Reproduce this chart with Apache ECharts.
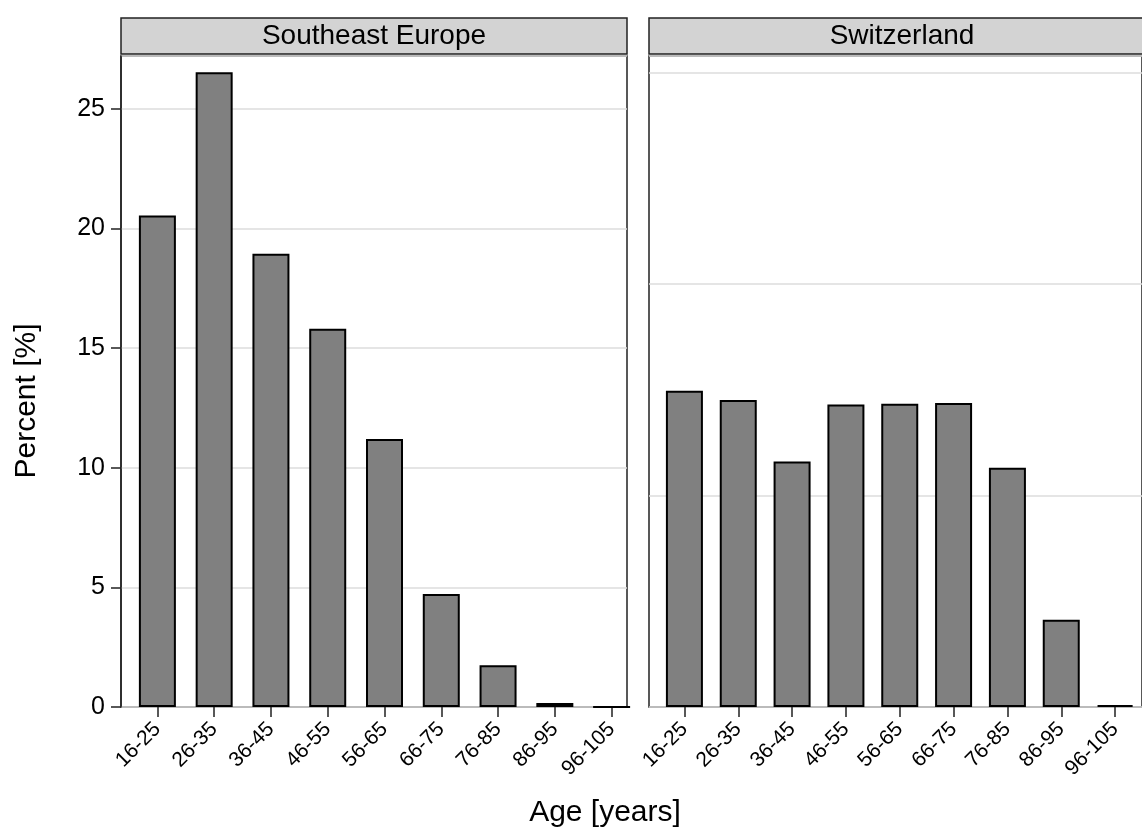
<!DOCTYPE html>
<html>
<head>
<meta charset="utf-8">
<script src="https://cdn.jsdelivr.net/npm/echarts@6/dist/echarts.min.js"></script>
<style>
html,body{margin:0;padding:0;background:#fff;}
#chart{width:1142px;height:829px;}
</style>
</head>
<body>
<div id="chart"></div>
<script>
const categories = ['16-25','26-35','36-45','46-55','56-65','66-75','76-85','86-95','96-105'];
const panelTitles = ['Southeast Europe','Switzerland'];
const seValues = [20.54, 26.52, 18.94, 15.80, 11.20, 4.72, 1.74, 0.17, 0];
const chValues = [13.21, 12.83, 10.26, 12.64, 12.67, 12.70, 10.00, 3.65, 0.08];
const yTickValues = [0, 5, 10, 15, 20, 25];
const yMax = 27.2;
const rightInterval = 8.84;
const xTitle = 'Age [years]';
const yTitle = 'Percent [%]';

const FONT = 'Liberation Sans, Arial, Helvetica, sans-serif';
const chart = echarts.init(document.getElementById('chart'), null, {renderer: 'canvas'});

const frameTop = 56, frameH = 651;
const grids = [
  {left: 121, top: frameTop, width: 506, height: frameH, show: true, borderColor: '#222', borderWidth: 1.5, backgroundColor: 'transparent'},
  {left: 129, top: frameTop, width: 511, height: frameH},
  {left: 649, top: frameTop, width: 506, height: frameH, show: true, borderColor: '#222', borderWidth: 1.5, backgroundColor: 'transparent'},
  {left: 657.5, top: frameTop, width: 495, height: frameH}
];

function frameX(i){
  return {type:'category', gridIndex:i, data:categories, show:false};
}
function dataX(i){
  return {
    type:'category', gridIndex:i, data:categories,
    axisLine:{show:false},
    axisTick:{show:true, alignWithLabel:true, length:10, lineStyle:{color:'#222', width:1.5}},
    axisLabel:{interval:0, rotate:45, fontSize:21, fontFamily:FONT, color:'#000', margin:19},
    splitLine:{show:false}
  };
}
const yAxes = [
  {type:'value', gridIndex:0, min:0, max:yMax,
   axisLine:{show:true, lineStyle:{color:'#222', width:1.5}},
   axisTick:{show:true, length:10, customValues:yTickValues, lineStyle:{color:'#222', width:1.5}},
   axisLabel:{fontSize:25, fontFamily:FONT, color:'#000', margin:16, customValues:yTickValues},
   splitLine:{show:false}},
  {type:'value', gridIndex:1, min:0, max:yMax, show:false, splitLine:{show:false}},
  {type:'value', gridIndex:2, min:0, max:yMax, interval:rightInterval,
   axisLine:{show:false}, axisTick:{show:false}, axisLabel:{show:false},
   splitLine:{show:true, lineStyle:{color:'#dddddd', width:1.5}}},
  {type:'value', gridIndex:3, min:0, max:yMax, show:false, splitLine:{show:false}},
  {type:'value', gridIndex:0, min:0, max:yMax, interval:5, show:true,
   axisLine:{show:false}, axisTick:{show:false}, axisLabel:{show:false},
   splitLine:{show:true, lineStyle:{color:'#dddddd', width:1.5}}}
];

const barStyle = {color:'#808080', borderColor:'#000', borderWidth:2};

function strip(x, text){
  return [
    {type:'rect', shape:{x:x, y:18, width:506, height:36},
     style:{fill:'#d3d3d3', stroke:'#222', lineWidth:1.5}, z:10},
    {type:'text', x:x+253, y:36,
     style:{text:text, font:'28px ' + FONT, fill:'#000', textAlign:'center', textVerticalAlign:'middle'}, z:11}
  ];
}

chart.setOption({
  animation:false,
  backgroundColor:'#fff',
  grid: grids,
  xAxis: [frameX(0), dataX(1), frameX(2), dataX(3)],
  yAxis: yAxes,
  series: [
    {type:'bar', xAxisIndex:1, yAxisIndex:1, data:seValues, barWidth:37, itemStyle:barStyle},
    {type:'bar', xAxisIndex:3, yAxisIndex:3, data:chValues, barWidth:37, itemStyle:barStyle}
  ],
  graphic: [
    ...strip(121, panelTitles[0]),
    ...strip(649, panelTitles[1]),
    {type:'text', x:605, y:813,
     style:{text:xTitle, font:'30px ' + FONT, fill:'#000', textAlign:'center', textVerticalAlign:'middle'}},
    {type:'text', x:27, y:401, rotation:Math.PI/2,
     style:{text:yTitle, font:'30px ' + FONT, fill:'#000', textAlign:'center', textVerticalAlign:'middle'}}
  ]
});
</script>
</body>
</html>
